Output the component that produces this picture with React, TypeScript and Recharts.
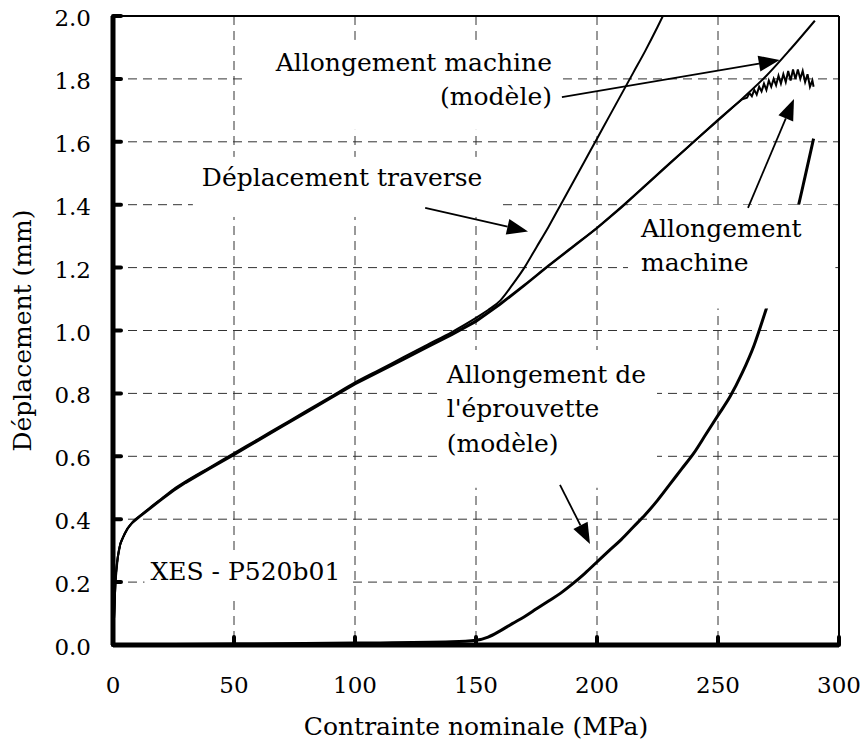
import React from "react";
import { LineChart, Line, XAxis, YAxis, CartesianGrid, ReferenceLine, ReferenceArea, Label } from "recharts";

const FONT = "'DejaVu Serif', serif";
const FS = 23;
const FS_TXT = 25;
const LINE_H = 34.5;

// Axes
const X_TICKS = [0, 50, 100, 150, 200, 250, 300];
const Y_TICKS = [0, 0.2, 0.4, 0.6, 0.8, 1.0, 1.2, 1.4, 1.6, 1.8, 2.0];

// Déplacement traverse (mesure)
const TRAVERSE_X = [0, 0.5, 1, 2, 3, 4, 6, 8, 11, 15, 20, 25, 30, 40, 50, 60, 70, 80, 90, 100, 110, 120, 130, 140, 150, 155, 160, 165, 170, 175, 180, 185, 190, 195, 200, 205, 210, 215, 220, 225, 228.5];
const TRAVERSE_Y = [0, 0.1, 0.2, 0.28, 0.32, 0.34, 0.37, 0.39, 0.41, 0.435, 0.465, 0.495, 0.52, 0.565, 0.61, 0.655, 0.7, 0.745, 0.79, 0.835, 0.875, 0.915, 0.955, 0.995, 1.04, 1.065, 1.095, 1.145, 1.2, 1.265, 1.33, 1.4, 1.47, 1.54, 1.61, 1.68, 1.75, 1.82, 1.89, 1.965, 2.02];

// Allongement machine (mesure, bruitée en fin d'essai)
const MACHINE_X = [0, 0.5, 1, 2, 3, 4, 6, 8, 11, 15, 20, 25, 30, 40, 50, 60, 70, 80, 90, 100, 110, 120, 130, 140, 150, 160, 170, 180, 190, 200, 210, 220, 230, 240, 250, 256, 260,
  262, 263, 264, 265, 266, 267, 268, 269, 270, 271, 272, 273, 274, 275, 276, 277, 278, 279, 280, 281, 282, 283, 284, 285, 286, 287, 288, 289, 289.5];
const MACHINE_Y = [0, 0.1, 0.2, 0.28, 0.32, 0.34, 0.37, 0.388, 0.407, 0.431, 0.461, 0.49, 0.515, 0.56, 0.604, 0.649, 0.694, 0.739, 0.784, 0.829, 0.868, 0.907, 0.946, 0.985, 1.027, 1.082, 1.142, 1.205, 1.265, 1.325, 1.39, 1.46, 1.53, 1.6, 1.67, 1.71, 1.735,
  1.74, 1.755, 1.745, 1.765, 1.75, 1.775, 1.76, 1.785, 1.765, 1.795, 1.775, 1.8, 1.78, 1.81, 1.785, 1.815, 1.79, 1.825, 1.795, 1.83, 1.8, 1.83, 1.8, 1.825, 1.79, 1.815, 1.775, 1.795, 1.775];

// Allongement machine (modèle)
const MODELE_X = [0, 0.5, 1, 2, 3, 4, 6, 8, 11, 15, 20, 25, 30, 40, 50, 60, 70, 80, 90, 100, 110, 120, 130, 140, 150, 160, 170, 180, 190, 200, 210, 220, 230, 240, 250, 260, 270, 280, 290];
const MODELE_Y = [0, 0.1, 0.2, 0.28, 0.32, 0.34, 0.37, 0.39, 0.41, 0.434, 0.464, 0.493, 0.518, 0.563, 0.607, 0.652, 0.697, 0.742, 0.787, 0.832, 0.871, 0.91, 0.95, 0.99, 1.032, 1.086, 1.145, 1.207, 1.267, 1.327, 1.393, 1.462, 1.532, 1.6, 1.668, 1.737, 1.81, 1.895, 1.985];

// Allongement de l'éprouvette (modèle)
const EPROUV_X = [0, 50, 100, 140, 150, 155, 160, 165, 170, 175, 180, 185, 190, 195, 200, 205, 210, 215, 220, 225, 230, 235, 240, 245, 250, 255, 260, 265, 270, 275, 280, 283, 286, 289.5];
const EPROUV_Y = [0, 0.003, 0.006, 0.01, 0.015, 0.025, 0.045, 0.068, 0.09, 0.115, 0.14, 0.165, 0.195, 0.228, 0.264, 0.3, 0.335, 0.375, 0.415, 0.46, 0.51, 0.56, 0.61, 0.67, 0.73, 0.79, 0.865, 0.955, 1.07, 1.19, 1.31, 1.39, 1.49, 1.61];

const zip = (xs: number[], ys: number[]) => xs.map((x, i) => ({ x, y: ys[i] }));

const traverse = zip(TRAVERSE_X, TRAVERSE_Y);
const machine = zip(MACHINE_X, MACHINE_Y);
const modele = zip(MODELE_X, MODELE_Y);
const eprouv = zip(EPROUV_X, EPROUV_Y);

// text boxes (white background hides grid and curves)
const BOXES = [
  { x1: 53.7, x2: 184.7, y1: 1.638, y2: 1.924, lines: ["Allongement machine", "(modèle)"], anchor: "end", pad: 8, base: 31 },
  { x1: 33, x2: 159, y1: 1.361, y2: 1.552, lines: ["Déplacement traverse"], anchor: "start", pad: 9, base: 29 },
  { x1: 212.8, x2: 298.5, y1: 1.07, y2: 1.4, lines: ["Allongement", "machine"], anchor: "start", pad: 13, base: 32 },
  { x1: 135, x2: 224.8, y1: 0.5, y2: 0.938, lines: ["Allongement de", "l'éprouvette", "(modèle)"], anchor: "start", pad: 7, base: 33 },
  { x1: 13, x2: 97, y1: 0.143, y2: 0.293, lines: ["XES - P520b01"], anchor: "start", pad: 6, base: 27 },
];

// arrows: start -> tip
const ARROWS = [
  [{ x: 185.5, y: 1.742 }, { x: 275.5, y: 1.86 }],
  [{ x: 129, y: 1.39 }, { x: 171.5, y: 1.315 }],
  [{ x: 262.4, y: 1.39 }, { x: 281.4, y: 1.736 }],
  [{ x: 184.7, y: 0.509 }, { x: 197.1, y: 0.321 }],
];

const boxShape = (b: any) => (props: any) => {
  const { x, y, width, height } = props;
  const tx = b.anchor === "start" ? x + b.pad : x + width - b.pad;
  return (
    <g>
      <rect x={x} y={y} width={width} height={height} fill="#fff" />
      {b.lines.map((t: string, i: number) => (
        <text key={i} x={tx} y={y + b.base + i * LINE_H} textAnchor={b.anchor} fontSize={FS_TXT} fontFamily={FONT} fill="#000">
          {t}
        </text>
      ))}
    </g>
  );
};

const arrowShape = (props: any) => {
  const { x1, y1, x2, y2 } = props;
  const dx = x2 - x1;
  const dy = y2 - y1;
  const len = Math.sqrt(dx * dx + dy * dy);
  const ux = dx / len;
  const uy = dy / len;
  const hl = 21;
  const hw = 8;
  const bx = x2 - ux * hl;
  const by = y2 - uy * hl;
  return (
    <g>
      <line x1={x1} y1={y1} x2={bx} y2={by} stroke="#000" strokeWidth={1.8} />
      <polygon points={`${x2},${y2} ${bx - uy * hw},${by + ux * hw} ${bx + uy * hw},${by - ux * hw}`} fill="#000" />
    </g>
  );
};

const YTick = (props: any) => {
  const { x, y, payload } = props;
  return (
    <g>
      <line x1={x} x2={x + 8} y1={y} y2={y} stroke="#000" strokeWidth={4} strokeLinecap="round" />
      <text x={x - 22} y={y + 10} textAnchor="end" fontSize={FS} fontFamily={FONT} fill="#000">
        {Number(payload.value).toFixed(1)}
      </text>
    </g>
  );
};

const XTick = (props: any) => {
  const { x, y, payload } = props;
  return (
    <g>
      <line x1={x} x2={x} y1={y} y2={y - 8} stroke="#000" strokeWidth={4} strokeLinecap="round" />
      <text x={x} y={y + 48} textAnchor="middle" fontSize={FS} fontFamily={FONT} fill="#000">
        {payload.value}
      </text>
    </g>
  );
};

const XTitle = (props: any) => {
  const vb = props.viewBox || {};
  return (
    <text x={vb.x + vb.width / 2} y={vb.y + 90} textAnchor="middle" fontSize={FS_TXT} fontFamily={FONT} fill="#000">
      Contrainte nominale (MPa)
    </text>
  );
};

const YTitle = (props: any) => {
  const vb = props.viewBox || {};
  const cx = 22;
  const cy = vb.y + vb.height / 2;
  return (
    <text x={cx} y={cy} dy="0.35em" transform={`rotate(-90 ${cx} ${cy})`} textAnchor="middle" fontSize={FS_TXT} fontFamily={FONT} fill="#000">
      Déplacement (mm)
    </text>
  );
};

export default function App() {
  return (
    <div style={{ position: "absolute", left: 0, top: 0, width: 867, height: 744, background: "#fff" }}>
      <LineChart width={867} height={744} margin={{ top: 16, right: 28, left: 0, bottom: 0 }}>
        <CartesianGrid stroke="#333" strokeDasharray="9 6" strokeWidth={1} />
        <XAxis
          type="number"
          dataKey="x"
          domain={[0, 300]}
          ticks={X_TICKS}
          allowDataOverflow
          height={99}
          axisLine={{ stroke: "#000", strokeWidth: 5 }}
          tickLine={false}
          tickSize={0}
          tickMargin={0}
          tick={XTick}
        >
          <Label content={XTitle} />
        </XAxis>
        <YAxis
          type="number"
          dataKey="y"
          domain={[0, 2]}
          ticks={Y_TICKS}
          allowDataOverflow
          width={113}
          axisLine={{ stroke: "#000", strokeWidth: 5 }}
          tickLine={false}
          tickSize={0}
          tickMargin={0}
          tick={YTick}
        >
          <Label content={YTitle} />
        </YAxis>
        <ReferenceLine y={2} stroke="#000" strokeWidth={2} ifOverflow="visible" />
        <ReferenceLine x={300} stroke="#000" strokeWidth={2} ifOverflow="visible" />
        <Line data={eprouv} dataKey="y" type="monotone" stroke="#000" strokeWidth={3} dot={false} isAnimationActive={false} />
        <Line data={traverse} dataKey="y" type="monotone" stroke="#000" strokeWidth={2} dot={false} isAnimationActive={false} />
        <Line data={modele} dataKey="y" type="monotone" stroke="#000" strokeWidth={2} dot={false} isAnimationActive={false} />
        <Line data={machine} dataKey="y" type="linear" stroke="#000" strokeWidth={2} dot={false} isAnimationActive={false} />
        {BOXES.map((b, i) => (
          <ReferenceArea key={`box${i}`} x1={b.x1} x2={b.x2} y1={b.y1} y2={b.y2} fill="#fff" fillOpacity={1} stroke="none" zIndex={450} shape={boxShape(b)} />
        ))}
        {ARROWS.map((seg, i) => (
          <ReferenceLine key={`arr${i}`} segment={seg} stroke="#000" zIndex={460} shape={arrowShape} />
        ))}
      </LineChart>
    </div>
  );
}
